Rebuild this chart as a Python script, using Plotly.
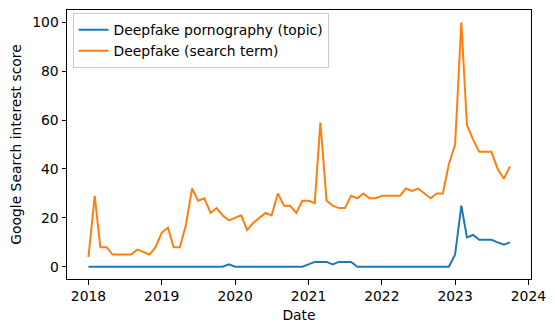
import pandas as pd
import plotly.graph_objects as go

dates = pd.date_range("2018-01-01", periods=70, freq="MS")

topic_values = [
    0, 0, 0, 0, 0, 0, 0, 0, 0, 0, 0, 0,
    0, 0, 0, 0, 0, 0, 0, 0, 0, 0, 0, 1,
    0, 0, 0, 0, 0, 0, 0, 0, 0, 0, 0, 0,
    1, 2, 2, 2, 1, 2, 2, 2, 0, 0, 0, 0,
    0, 0, 0, 0, 0, 0, 0, 0, 0, 0, 0, 0,
    5, 25, 12, 13, 11, 11, 11, 10, 9, 10,
]

term_values = [
    4, 29, 8, 8, 5, 5, 5, 5, 7, 6, 5, 8,
    14, 16, 8, 8, 17, 32, 27, 28, 22, 24, 21, 19,
    20, 21, 15, 18, 20, 22, 21, 30, 25, 25, 22, 27,
    27, 26, 59, 27, 25, 24, 24, 29, 28, 30, 28, 28,
    29, 29, 29, 29, 32, 31, 32, 30, 28, 30, 30, 42,
    50, 100, 58, 52, 47, 47, 47, 40, 36, 41,
]

series_names = ["Deepfake pornography (topic)", "Deepfake (search term)"]
year_ticks = ["2018", "2019", "2020", "2021", "2022", "2023", "2024"]
y_ticks = [0, 20, 40, 60, 80, 100]

fig = go.Figure()
fig.add_trace(go.Scatter(x=dates, y=topic_values, mode="lines", name=series_names[0],
                         line=dict(color="#1f77b4", width=2)))
fig.add_trace(go.Scatter(x=dates, y=term_values, mode="lines", name=series_names[1],
                         line=dict(color="#ff7f0e", width=2)))

font = dict(family="DejaVu Sans", size=13.9, color="black")
axis_common = dict(showline=True, linecolor="black", linewidth=1, mirror=True,
                   ticks="outside", ticklen=4.5, tickwidth=1, tickcolor="black",
                   showgrid=False, zeroline=False, tickfont=font, automargin=False)

# The page body adds an 8px offset, so the figure is sized 8px smaller.
fig.update_layout(
    width=547, height=324,
    margin=dict(l=59, r=24, t=2, b=53),
    paper_bgcolor="white", plot_bgcolor="white",
    font=font,
    showlegend=True,
    legend=dict(x=0.012, y=0.988, xanchor="left", yanchor="top",
                bgcolor="rgba(255,255,255,0.8)", bordercolor="#cccccc", borderwidth=1,
                font=font, itemwidth=30, tracegroupgap=0),
    xaxis=dict(axis_common, type="date",
               range=["2017-09-16", "2024-01-14"],
               tickvals=[f"{y}-01-01" for y in year_ticks], ticktext=year_ticks,
               title=dict(text="Date", font=font, standoff=7)),
    yaxis=dict(axis_common, range=[-5, 105], tickvals=y_ticks,
               title=dict(text="Google Search interest score", font=font, standoff=13)),
)

fig.write_html("out.html")
